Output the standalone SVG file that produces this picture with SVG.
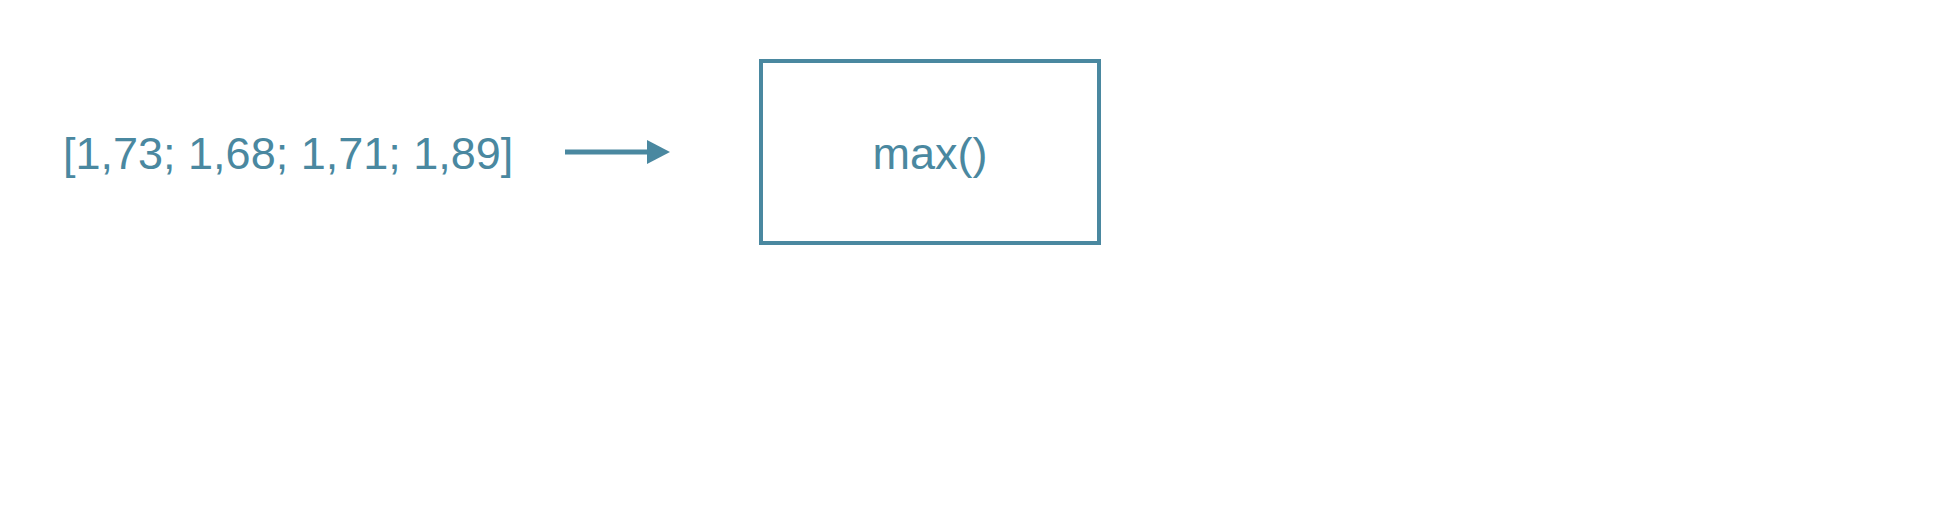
<svg xmlns="http://www.w3.org/2000/svg" width="1945" height="528" viewBox="0 0 1945 528">
<style>
.t{font-family:"Liberation Sans",Arial,sans-serif;font-size:45px;fill:#4a88a0}
</style>
<rect width="1945" height="528" fill="#fff"/>
<g id="list"><text class="t" x="63" y="169">[1,73; 1,68; 1,71; 1,89]</text></g>
<g id="connectors">
<line x1="565" y1="152" x2="650" y2="152" stroke="#4a88a0" stroke-width="5"/>
<polygon points="647,140 670,152 647,164" fill="#4a88a0"/>
</g>
<g id="max">
<rect x="761" y="61" width="338" height="182" fill="none" stroke="#4a88a0" stroke-width="4"/>
<text class="t" x="930" y="169" text-anchor="middle">max()</text>
</g>
</svg>
